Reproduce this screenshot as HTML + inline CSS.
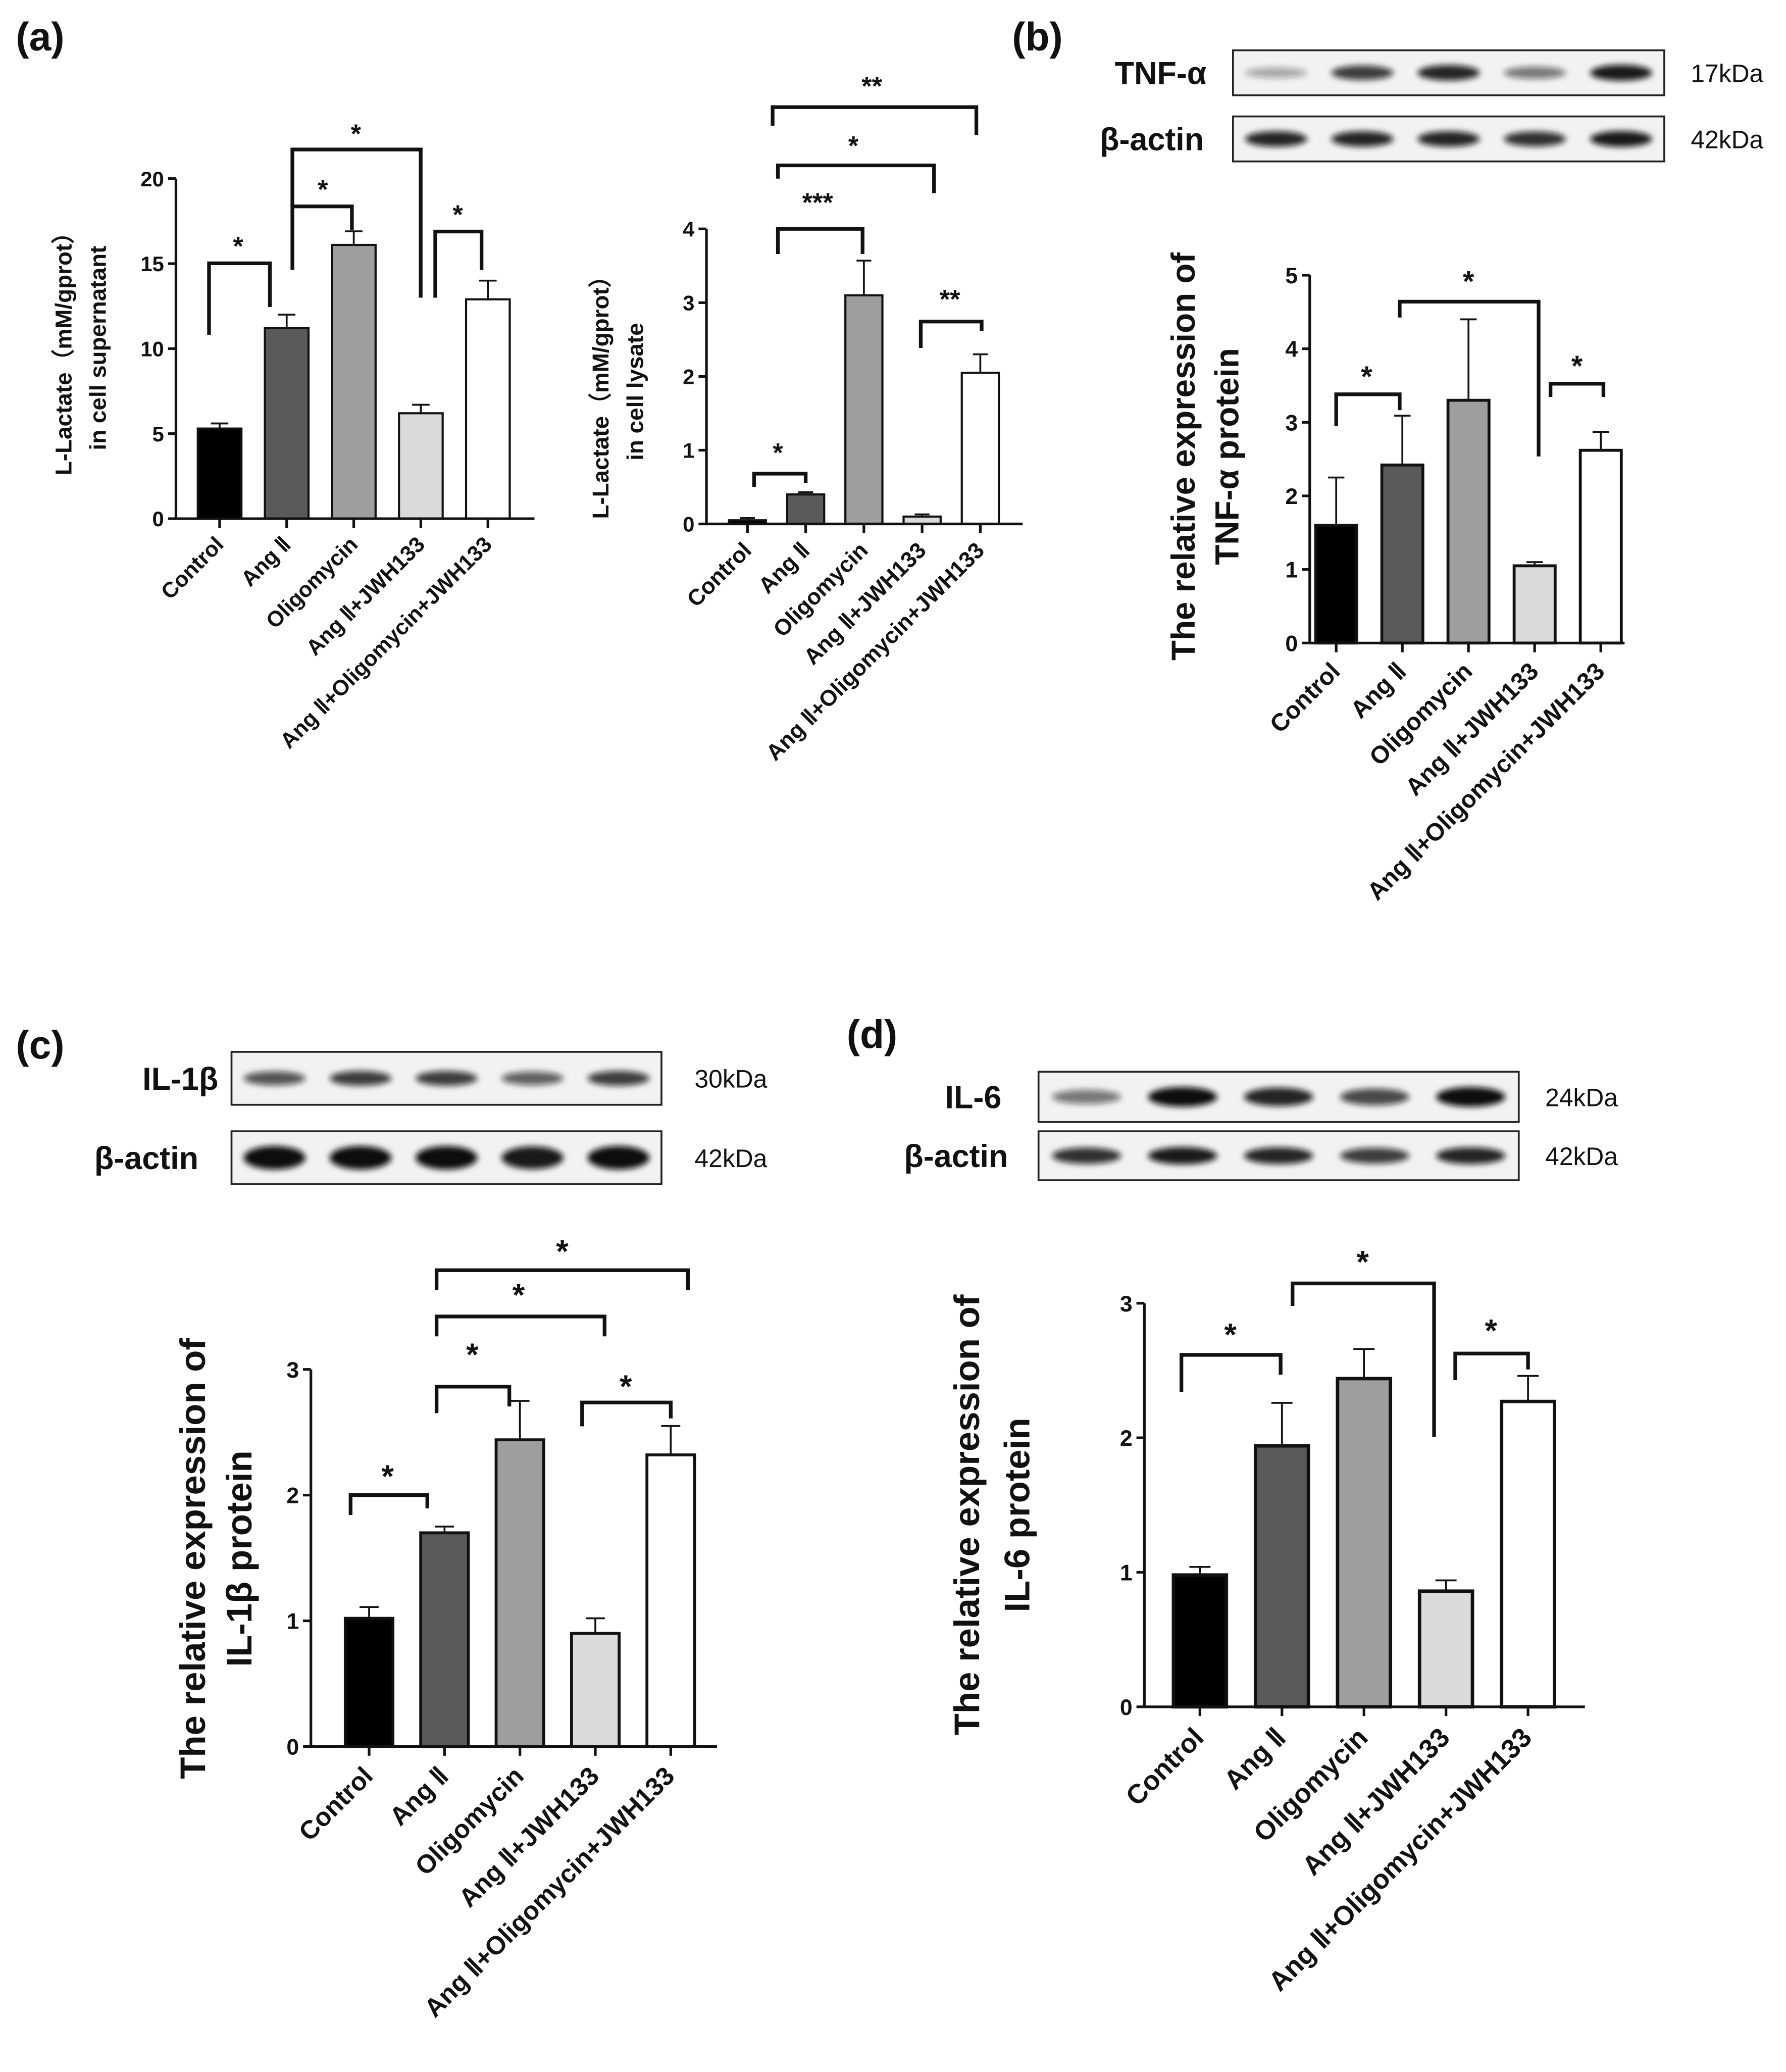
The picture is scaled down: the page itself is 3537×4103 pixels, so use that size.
<!DOCTYPE html>
<html><head><meta charset="utf-8"><style>
html,body{margin:0;padding:0;background:#fff;}
svg{display:block;}
text{font-family:"Liberation Sans",sans-serif;font-weight:bold;fill:#111;}
text.kd{font-weight:normal;}
</style></head><body>
<svg id="fig" xmlns="http://www.w3.org/2000/svg" width="3537" height="4103" viewBox="0 0 1350 1566" preserveAspectRatio="none">
<defs><filter id="blur" x="-30%" y="-100%" width="160%" height="300%"><feGaussianBlur stdDeviation="2.2"/></filter></defs>
<g id="root"></g>
</svg>
<script>
const categories = ["Control","Ang \u2161","Oligomycin","Ang \u2161+JWH133","Ang \u2161+Oligomycin+JWH133"];
const colors = ["#000000","#5a5a5a","#9e9e9e","#dadada","#ffffff"];
const supValues = [5.3, 11.2, 16.1, 6.2, 12.9];
const supErrors = [0.3, 0.8, 0.8, 0.5, 1.1];
const supTicks = [0,5,10,15,20];
const lysValues = [0.05, 0.4, 3.1, 0.1, 2.05];
const lysErrors = [0.03, 0.03, 0.47, 0.03, 0.25];
const lysTicks = [0,1,2,3,4];
const tnfValues = [1.6, 2.42, 3.3, 1.05, 2.62];
const tnfErrors = [0.65, 0.67, 1.1, 0.05, 0.25];
const tnfTicks = [0,1,2,3,4,5];
const il1Values = [1.02, 1.7, 2.44, 0.9, 2.32];
const il1Errors = [0.09, 0.05, 0.31, 0.12, 0.23];
const il1Ticks = [0,1,2,3];
const il6Values = [0.98, 1.94, 2.44, 0.86, 2.27];
const il6Errors = [0.06, 0.32, 0.22, 0.08, 0.19];
const il6Ticks = [0,1,2,3];
const tnfBand = [0.35, 0.8, 0.9, 0.55, 0.95];
const actinBandB = [0.9, 0.9, 0.9, 0.85, 0.95];
const il1Band = [0.7, 0.8, 0.8, 0.65, 0.8];
const actinBandC = [1, 1, 1, 0.95, 1];
const il6Band = [0.55, 1, 0.9, 0.75, 1];
const actinBandD = [0.85, 0.95, 0.9, 0.8, 0.9];

const NS="http://www.w3.org/2000/svg";
const root=document.getElementById('root');
function el(tag,attrs,parent,txt){const e=document.createElementNS(NS,tag);for(const k in attrs)e.setAttribute(k,attrs[k]);if(txt!==undefined)e.textContent=txt;(parent||root).appendChild(e);return e;}

function chart(cfg){
  const g=el('g',{});
  
  
  const max=cfg.ticks[cfg.ticks.length-1];
  const yS=v=>cfg.y0-(v/max)*(cfg.y0-cfg.yTop);
  const xS=i=>cfg.x1+cfg.step*i;
  const sw=cfg.sw||1.6;
  cfg.values.forEach((v,i)=>{
    const b=el('rect',{x:xS(i)-cfg.bw/2,y:yS(v),width:cfg.bw,height:cfg.y0-yS(v),fill:colors[i],stroke:'#111','stroke-width':sw},g);
    
    
    const top=yS(v+cfg.errors[i]);
    const e=el('path',{d:`M${xS(i)},${yS(v)}V${top}M${xS(i)-cfg.bw*0.2},${top}H${xS(i)+cfg.bw*0.2}`,stroke:'#111','stroke-width':1.4,fill:'none'},g);
    
    
  });
  const ax=el('path',{d:`M${cfg.ax},${cfg.yTop}V${cfg.y0}H${cfg.axEnd}`,stroke:'#111','stroke-width':2,fill:'none'},g);
  
  
  cfg.ticks.forEach(t=>{
    el('line',{x1:cfg.ax-6,x2:cfg.ax,y1:yS(t),y2:yS(t),stroke:'#111','stroke-width':2},g);
    const tl=el('text',{x:cfg.ax-9,y:yS(t)+cfg.tfs*0.36,'text-anchor':'end','font-size':cfg.tfs},g,String(t));
    
    
  });
  categories.forEach((c,i)=>{
    el('line',{x1:xS(i),x2:xS(i),y1:cfg.y0,y2:cfg.y0+7,stroke:'#111','stroke-width':2},g);
    const lx=xS(i)+4, ly=cfg.y0+cfg.xfs+4;
    const t=el('text',{x:lx,y:ly,'text-anchor':'end','font-size':cfg.xfs,transform:`rotate(-45 ${lx} ${ly})`},g,c);
    
    
  });
  cfg.title.forEach((line,k)=>{
    const tx=cfg.titleX[k], ty=cfg.titleY;
    const t=el('text',{x:tx,y:ty,'text-anchor':'middle','font-size':cfg.titleFs,transform:`rotate(-90 ${tx} ${ty})`},g,line);
    
    
  });
  cfg.brackets.forEach(b=>{
    const p=el('path',{d:`M${b[0]},${b[1]}V${b[4]}H${b[2]}V${b[3]}`,stroke:'#111','stroke-width':2.8,fill:'none'},g);
    
    
    const s=el('text',{x:b[6],y:b[7]+12,'text-anchor':'middle','font-size':cfg.starFs||22},g,b[5]);
    
    
  });
}

function blot(cfg){
  const g=el('g',{});
  
  
  const r=el('rect',{x:cfg.x,y:cfg.y,width:cfg.w,height:cfg.h,fill:'#f2f2f2',stroke:'#222','stroke-width':1.4},g);
  
  
  const step=cfg.w/5;
  cfg.bands.forEach((v,i)=>{
    const cx=cfg.x+step*(i+0.5);
    const band=el('ellipse',{cx:cx,cy:cfg.y+cfg.h/2,rx:step*0.36,ry:cfg.h*0.13*(0.6+v*cfg.thick),fill:'#111','fill-opacity':v,filter:'url(#blur)'},g);
    
    
  });
  const l=el('text',{x:cfg.labelX,y:cfg.y+cfg.h/2+cfg.lfs*0.36,'text-anchor':'end','font-size':cfg.lfs},g,cfg.label);
  
  
  const k=el('text',{x:cfg.kdX,y:cfg.y+cfg.h/2+7,'font-size':19,'class':'kd'},g,cfg.kd);
  
  
}

[["(a)",12,38],["(b)",765,38],["(c)",12,800],["(d)",640,792]].forEach(p=>{
  const t=el('text',{x:p[1],y:p[2],'font-size':30},root,p[0]);
  
  
});

chart({name:'chart-supernatant',values:supValues,errors:supErrors,ticks:supTicks,ax:133,y0:392,yTop:135,x1:166,step:50.7,bw:33,axEnd:404,tfs:16,xfs:16.5,
  title:["L-Lactate（mM/gprot）","in cell supernatant"],titleX:[54,80],titleY:263,titleFs:17.5,starFs:20,
  brackets:[[158,253,204,232,199,"*",180,181],[221,204,266,174,156,"*",244,138],[221,156,318,225,113,"*",269,96],[329,225,364,204,175,"*",346,157]]});
chart({name:'chart-lysate',values:lysValues,errors:lysErrors,ticks:lysTicks,ax:534,y0:396,yTop:173,x1:565,step:44,bw:28,axEnd:773,tfs:16,xfs:17,
  title:["L-Lactate（mM/gprot）","in cell lysate"],titleX:[460,486],titleY:296,titleFs:17.5,starFs:20,
  brackets:[[570,368,609,365,358,"*",588,337],[588,192,652,192,173,"***",618,148],[588,135,706,146,125,"*",645,105],[584,95,738,102,81,"**",659,60],[696,263,742,250,243,"**",718,221]]});
blot({name:'blot-tnf',x:932,y:38,w:326,h:34,bands:tnfBand,thick:0.8,label:"TNF-\u03b1",labelX:912,lfs:24,kd:"17kDa",kdX:1278});
blot({name:'blot-actin-b',x:932,y:88,w:326,h:34,bands:actinBandB,thick:0.8,label:"\u03b2-actin",labelX:910,lfs:24,kd:"42kDa",kdX:1278});
chart({name:'chart-tnf',values:tnfValues,errors:tnfErrors,ticks:tnfTicks,ax:990,y0:486,yTop:208,x1:1010,step:50,bw:31,axEnd:1228,tfs:17,xfs:18.5,sw:2.2,
  title:["The relative expression of","TNF-\u03b1 protein"],titleX:[903,936],titleY:345,titleFs:25,starFs:22,
  brackets:[[1010,322,1058,310,298,"*",1033,280],[1058,240,1163,345,228,"*",1110,208],[1172,300,1212,300,290,"*",1192,272]]});
blot({name:'blot-il1b',x:175,y:795,w:325,h:40,bands:il1Band,thick:0.6,label:"IL-1\u03b2",labelX:165,lfs:24,kd:"30kDa",kdX:525});
blot({name:'blot-actin-c',x:175,y:855,w:325,h:40,bands:actinBandC,thick:1.1,label:"\u03b2-actin",labelX:150,lfs:24,kd:"42kDa",kdX:525});
chart({name:'chart-il1b',values:il1Values,errors:il1Errors,ticks:il1Ticks,ax:235,y0:1320,yTop:1035,x1:279,step:57,bw:36,axEnd:542,tfs:17,xfs:19.5,sw:2.2,
  title:["The relative expression of","IL-1\u03b2 protein"],titleX:[155,190],titleY:1178,titleFs:27,starFs:24,
  brackets:[[265,1145,323,1140,1130,"*",293,1112],[330,1068,385,1063,1048,"*",357,1020],[440,1078,507,1072,1060,"*",473,1044],[330,1010,457,1010,995,"*",392,975],[330,975,520,975,960,"*",425,942]]});
blot({name:'blot-il6',x:785,y:810,w:363,h:38,bands:il6Band,thick:0.9,label:"IL-6",labelX:757,lfs:24,kd:"24kDa",kdX:1168});
blot({name:'blot-actin-d',x:785,y:855,w:363,h:37,bands:actinBandD,thick:0.8,label:"\u03b2-actin",labelX:762,lfs:24,kd:"42kDa",kdX:1168});
chart({name:'chart-il6',values:il6Values,errors:il6Errors,ticks:il6Ticks,ax:865,y0:1290,yTop:985,x1:907,step:62,bw:40,axEnd:1198,tfs:17,xfs:20.5,sw:2.6,
  title:["The relative expression of","IL-6 protein"],titleX:[740,778],titleY:1145,titleFs:27,starFs:24,
  brackets:[[893,1052,968,1039,1024,"*",930,1005],[977,987,1084,1086,970,"*",1030,950],[1100,1043,1155,1035,1023,"*",1127,1002]]});
</script>
</body></html>
